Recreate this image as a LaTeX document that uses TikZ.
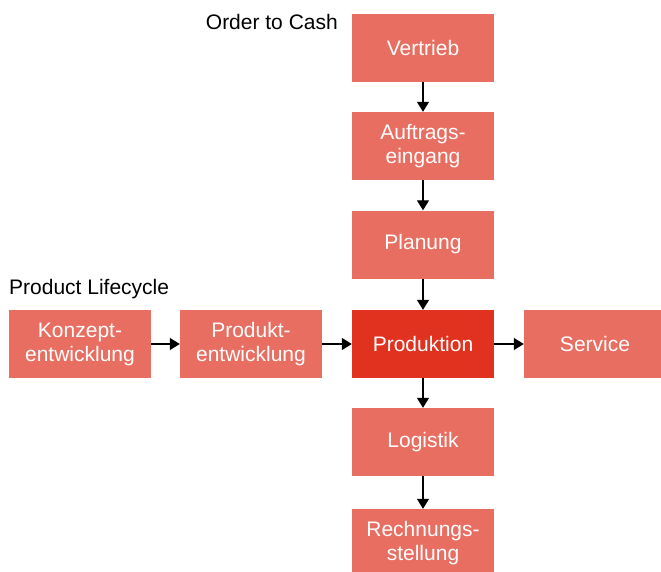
\documentclass[tikz,border=0pt]{standalone}
\usepackage{fontspec}
\setmainfont{Liberation Sans}
\usetikzlibrary{arrows.meta}
\definecolor{boxred}{HTML}{E96E62}
\definecolor{boxdark}{HTML}{E0321F}
\tikzset{
  box/.style={fill=boxred, text=white, minimum width=142pt, minimum height=68pt,
    inner sep=0pt, align=center, font=\fontsize{21}{24}\selectfont},
  arr/.style={draw, line width=1.3pt, -{Triangle[length=10pt,width=12pt]}},
  title/.style={font=\fontsize{21}{24}\selectfont, inner sep=0pt}
}
\begin{document}
\begin{tikzpicture}[x=1pt,y=-1pt]
\clip (0,0) rectangle (661,571);
% order to cash column
\node[box] (vertrieb) at (423,48) {Vertrieb};
\node[box] (auftrag) at (423,146) {Auftrags-\\eingang};
\node[box] (planung) at (423,244.5) {Planung};
\node[box, fill=boxdark] (produktion) at (423,344) {Produktion};
\node[box] (logistik) at (423,442) {Logistik};
\node[box] (rechnung) at (423,543) {Rechnungs-\\stellung};
% product lifecycle row
\node[box] (konzept) at (80,344) {Konzept-\\entwicklung};
\node[box] (produkt) at (251,344) {Produkt-\\entwicklung};
\node[box] (service) at (595,344) {Service};
% headings
\node[title, anchor=east] (otc) at (338,22) {Order to Cash};
\node[title, anchor=west] (plc) at (9,289) {Product Lifecycle};
% flow
\draw[arr] (vertrieb) -- (auftrag);
\draw[arr] (auftrag) -- (planung);
\draw[arr] (planung) -- (produktion);
\draw[arr] (produktion) -- (logistik);
\draw[arr] (logistik) -- (rechnung);
\draw[arr] (konzept) -- (produkt);
\draw[arr] (produkt) -- (produktion);
\draw[arr] (produktion) -- (service);
\end{tikzpicture}
\end{document}
